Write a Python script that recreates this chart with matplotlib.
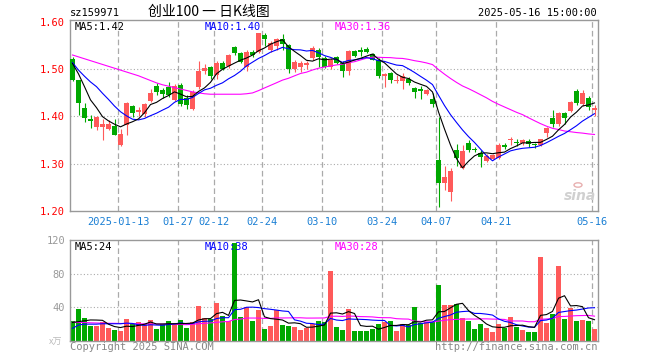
import pandas as pd
import matplotlib
matplotlib.use('Agg')
from matplotlib import pyplot as plt

plt.rcParams['font.family'] = ['DejaVu Sans Mono', 'Noto Sans CJK SC']

# trading days shown on the chart
dates = ['12-31', '01-02', '01-03', '01-06', '01-07', '01-08', '01-09', '01-10',
         '01-13', '01-14', '01-15', '01-16', '01-17', '01-20', '01-21', '01-22',
         '01-23', '01-24', '01-27', '02-05', '02-06', '02-07', '02-10', '02-11',
         '02-12', '02-13', '02-14', '02-17', '02-18', '02-19', '02-20', '02-21',
         '02-24', '02-25', '02-26', '02-27', '02-28', '03-03', '03-04', '03-05',
         '03-06', '03-07', '03-10', '03-11', '03-12', '03-13', '03-14', '03-17',
         '03-18', '03-19', '03-20', '03-21', '03-24', '03-25', '03-26', '03-27',
         '03-28', '03-31', '04-01', '04-02', '04-03', '04-07', '04-08', '04-09',
         '04-10', '04-11', '04-14', '04-15', '04-16', '04-17', '04-18', '04-21',
         '04-22', '04-23', '04-24', '04-25', '04-28', '04-29', '04-30', '05-06',
         '05-07', '05-08', '05-09', '05-12', '05-13', '05-14', '05-15', '05-16']

opens = [1.521, 1.477, 1.418, 1.395, 1.378, 1.377, 1.374, 1.380, 1.340, 1.382,
         1.422, 1.409, 1.405, 1.433, 1.464, 1.455, 1.462, 1.435, 1.466, 1.440,
         1.415, 1.462, 1.497, 1.504, 1.487, 1.512, 1.506, 1.546, 1.535, 1.505,
         1.537, 1.537, 1.572, 1.540, 1.549, 1.563, 1.551, 1.500, 1.505, 1.508,
         1.523, 1.540, 1.523, 1.505, 1.525, 1.514, 1.497, 1.538, 1.540, 1.543,
         1.532, 1.519, 1.485, 1.492, 1.475, 1.476, 1.480, 1.461, 1.458, 1.447,
         1.436, 1.308, 1.260, 1.241, 1.330, 1.290, 1.344, 1.331, 1.323, 1.306,
         1.311, 1.313, 1.340, 1.350, 1.347, 1.343, 1.349, 1.341, 1.340, 1.366,
         1.396, 1.383, 1.408, 1.411, 1.454, 1.426, 1.440, 1.4135]
highs = [1.525, 1.478, 1.428, 1.403, 1.401, 1.394, 1.392, 1.394, 1.373, 1.431,
         1.425, 1.419, 1.428, 1.459, 1.470, 1.460, 1.473, 1.468, 1.470, 1.445,
         1.455, 1.518, 1.511, 1.507, 1.518, 1.518, 1.533, 1.548, 1.537, 1.540,
         1.541, 1.577, 1.577, 1.560, 1.566, 1.574, 1.553, 1.520, 1.517, 1.518,
         1.549, 1.545, 1.527, 1.523, 1.528, 1.518, 1.541, 1.541, 1.546, 1.546,
         1.535, 1.523, 1.491, 1.495, 1.487, 1.492, 1.483, 1.463, 1.465, 1.458,
         1.449, 1.398, 1.295, 1.290, 1.342, 1.340, 1.350, 1.336, 1.328, 1.320,
         1.320, 1.344, 1.344, 1.357, 1.352, 1.352, 1.353, 1.343, 1.353, 1.377,
         1.4135, 1.409, 1.410, 1.432, 1.457, 1.456, 1.443, 1.424]
lows = [1.474, 1.404, 1.389, 1.375, 1.371, 1.350, 1.371, 1.360, 1.337, 1.361,
        1.399, 1.400, 1.399, 1.431, 1.445, 1.440, 1.442, 1.433, 1.422, 1.415,
        1.413, 1.458, 1.489, 1.480, 1.480, 1.498, 1.503, 1.530, 1.512, 1.496,
        1.526, 1.535, 1.549, 1.537, 1.540, 1.540, 1.492, 1.494, 1.494, 1.500,
        1.520, 1.505, 1.503, 1.500, 1.510, 1.484, 1.488, 1.526, 1.528, 1.534,
        1.519, 1.482, 1.463, 1.470, 1.470, 1.457, 1.466, 1.438, 1.4375, 1.445,
        1.419, 1.209, 1.244, 1.222, 1.295, 1.288, 1.325, 1.324, 1.294, 1.303,
        1.309, 1.311, 1.331, 1.340, 1.338, 1.340, 1.336, 1.333, 1.337, 1.357,
        1.378, 1.380, 1.385, 1.409, 1.424, 1.422, 1.4135, 1.401]
closes = [1.478, 1.429, 1.396, 1.391, 1.399, 1.383, 1.384, 1.361, 1.363, 1.429,
          1.407, 1.414, 1.426, 1.450, 1.452, 1.448, 1.445, 1.465, 1.426, 1.424,
          1.452, 1.497, 1.503, 1.485, 1.514, 1.500, 1.530, 1.535, 1.516, 1.537,
          1.531, 1.576, 1.564, 1.556, 1.563, 1.553, 1.500, 1.516, 1.512, 1.513,
          1.544, 1.525, 1.505, 1.519, 1.514, 1.497, 1.539, 1.528, 1.537, 1.537,
          1.519, 1.485, 1.489, 1.478, 1.478, 1.485, 1.471, 1.452, 1.454, 1.456,
          1.426, 1.260, 1.271, 1.285, 1.313, 1.327, 1.330, 1.328, 1.314, 1.316,
          1.318, 1.340, 1.335, 1.351, 1.344, 1.350, 1.341, 1.339, 1.352, 1.375,
          1.384, 1.408, 1.396, 1.430, 1.428, 1.449, 1.419, 1.417]
# volume, 万手
volumes = [23.8, 38, 27, 17.8, 17.8, 22.2, 15, 13, 11.9, 26,
           19.8, 22.2, 19.8, 25, 14.3, 19.8, 23.8, 19.8, 25, 15.8,
           22.2, 42, 27, 26, 45.5, 29.7, 23.8, 116, 28.5, 40,
           23.8, 36.8, 14.3, 18.2, 36.4, 19, 18.2, 16.2, 13, 15,
           20.2, 23.8, 23, 83.5, 17, 13, 38, 11.9, 11.9, 11.9,
           14.3, 20.2, 22.2, 23.8, 11.9, 19.8, 19, 40.8, 21, 23,
           22, 66.5, 42.8, 42.8, 44, 27.7, 23.8, 14.3, 20.2, 15,
           11.1, 20.2, 15, 28.9, 17, 13, 11.1, 11.1, 100, 21.8,
           31.7, 89.5, 26, 39.6, 23.8, 25, 23.8, 14.3]

# MA values at the left edge (they need days before the window)
ma5_head = [1.512, 1.490, 1.463, 1.435]
ma10_head = [1.514, 1.498, 1.485, 1.473, 1.463, 1.449, 1.436, 1.422, 1.410]
ma30_head = [1.530, 1.526, 1.522, 1.518, 1.514, 1.510, 1.506, 1.502, 1.498, 1.494,
             1.490, 1.486, 1.481, 1.476, 1.471, 1.467, 1.464, 1.461, 1.458, 1.455,
             1.452, 1.450, 1.448, 1.447, 1.447, 1.447, 1.447, 1.447, 1.447]
vma5_head = [22, 23, 24, 25]
vma10_head = [15, 19, 20, 20, 20, 20.5, 20.5, 20.5, 20.5]
vma30_head = [22.2, 22, 22, 21.6, 21.4, 21.2, 21, 21, 20.8, 20.8,
              20.6, 20.4, 20.4, 20.2, 20.2, 20, 20, 19.8, 19.6, 19.4,
              19.8, 20.5, 21, 21.5, 22.2, 22.8, 23.2, 25.5, 26]

tick_dates = ['01-13', '01-27', '02-12', '02-24', '03-10', '03-24', '04-07', '04-21', '05-16']
tick_labels = ['2025-01-13', '01-27', '02-12', '02-24', '03-10', '03-24', '04-07', '04-21', '05-16']

df = pd.DataFrame({'open': opens, 'high': highs, 'low': lows, 'close': closes, 'vol': volumes})


def moving_avg(vals, n, head):
    s = pd.Series(vals).rolling(n).mean()
    s.iloc[:len(head)] = head
    return s


ma5 = moving_avg(df.close, 5, ma5_head)
ma10 = moving_avg(df.close, 10, ma10_head)
ma30 = moving_avg(df.close, 30, ma30_head)
vma5 = moving_avg(df.vol, 5, vma5_head)
vma10 = moving_avg(df.vol, 10, vma10_head)
vma30 = moving_avg(df.vol, 30, vma30_head)

RED = '#ff5a5a'
GREEN = '#00a800'
GRID = '#aaaaaa'
FRAME = '#999999'
FS = 7

x = list(range(len(df)))
up = df.close >= df.open
colors = [RED if u else GREEN for u in up]

W, H = 660, 360
fig = plt.figure(figsize=(W / 100, H / 100), dpi=100)
ax = fig.add_axes([70 / W, 1 - 211 / H, 528 / W, 191 / H])
axv = fig.add_axes([70 / W, 1 - 341 / H, 528 / W, 101 / H])

xmin, xmax = -2.5 / 6, len(df) - 1 + 3.5 / 6
grid_x = [dates.index(d) - 2.5 / 6 for d in tick_dates]

for a in (ax, axv):
    a.set_xlim(xmin, xmax)
    for s in a.spines.values():
        s.set_color(FRAME)
        s.set_linewidth(1)
    for gx in grid_x:
        a.axvline(gx, color=GRID, lw=0.9, dashes=(4.5, 2.5), zorder=0)
    a.tick_params(length=0)

# candles
ax.vlines(x, df.low, df.high, colors=colors, lw=0.8, zorder=2)
bottoms = df[['open', 'close']].min(axis=1)
heights = (df.close - df.open).abs().clip(lower=0.0022)
ax.bar(x, heights, bottom=bottoms, width=0.82, color=colors, linewidth=0, zorder=3)
ax.plot(x, ma30, color='#ff00ff', lw=0.8, zorder=4)
ax.plot(x, ma10, color='#0000ff', lw=0.8, zorder=4)
ax.plot(x, ma5, color='black', lw=0.8, zorder=4)

ax.set_ylim(1.20, 1.604)
for yv in (1.30, 1.40, 1.50):
    ax.axhline(yv, color=GRID, lw=0.8, dashes=(1, 2), zorder=0)
ax.set_yticks([1.20, 1.30, 1.40, 1.50, 1.60])
ax.set_yticklabels(['1.20', '1.30', '1.40', '1.50', '1.60'], color='red', fontsize=FS + 0.5)
ax.tick_params(axis='y', pad=3.6)
ax.set_xticks(grid_x)
ax.set_xticklabels(tick_labels, color='#1a7fd4', fontsize=FS + 0.5)
ax.tick_params(axis='x', pad=4)

# volume bars
axv.bar(x, df.vol, width=0.82, color=colors, linewidth=0, zorder=2)
axv.plot(x, vma30, color='#ff00ff', lw=0.8, zorder=4)
axv.plot(x, vma10, color='#0000ff', lw=0.8, zorder=4)
axv.plot(x, vma5, color='black', lw=0.8, zorder=4)
axv.set_ylim(0, 120)
for yv in (40, 80):
    axv.axhline(yv, color=GRID, lw=0.8, dashes=(1, 2), zorder=0)
axv.set_yticks([40, 80, 120])
axv.set_yticklabels(['40', '80', '120'], color=FRAME, fontsize=FS + 0.5)
axv.tick_params(axis='y', pad=3.6)
axv.set_xticks([])


def ftext(px, py, s, **kw):
    fig.text(px / W, 1 - py / H, s, va='center', **kw)


# header
ftext(70, 13, 'sz159971', fontsize=FS + 0.5, color='black')
ftext(209, 12, '创业100 一 日K线图', fontsize=10, ha='center',
      family=['Noto Sans CJK SC', 'DejaVu Sans'])
ftext(597, 13, '2025-05-16 15:00:00', fontsize=FS + 0.5, ha='right')

# legends
ftext(75, 27, 'MA5:1.42', fontsize=FS + 0.5, color='black')
ftext(205, 27, 'MA10:1.40', fontsize=FS + 0.5, color='#0000ff')
ftext(335, 27, 'MA30:1.36', fontsize=FS + 0.5, color='#ff00ff')
ftext(75, 247, 'MA5:24', fontsize=FS + 0.5, color='black')
ftext(205, 247, 'MA10:38', fontsize=FS + 0.5, color='#0000ff')
ftext(335, 247, 'MA30:28', fontsize=FS + 0.5, color='#ff00ff')

# footer
ftext(70, 347, 'Copyright 2025 SINA.COM', fontsize=FS + 0.5, color='#888888')
ftext(597, 347, 'http://finance.sina.com.cn', fontsize=FS + 0.5, color='#888888', ha='right')
ftext(56, 342, 'x万', fontsize=6.5, color='#bbbbbb', ha='center',
      family=['Noto Sans CJK SC', 'DejaVu Sans'])

# watermark
ftext(580, 196, 'sina', fontsize=10, color='#d0d0d0', ha='center',
      style='italic', weight='bold', family='DejaVu Sans')
fig.patches.append(plt.Circle((578 / W, 1 - 185 / H), 4 / W, transform=fig.transFigure,
                              fill=False, edgecolor='#e8b0b0', lw=1))

fig.savefig('out.png', dpi=100)
